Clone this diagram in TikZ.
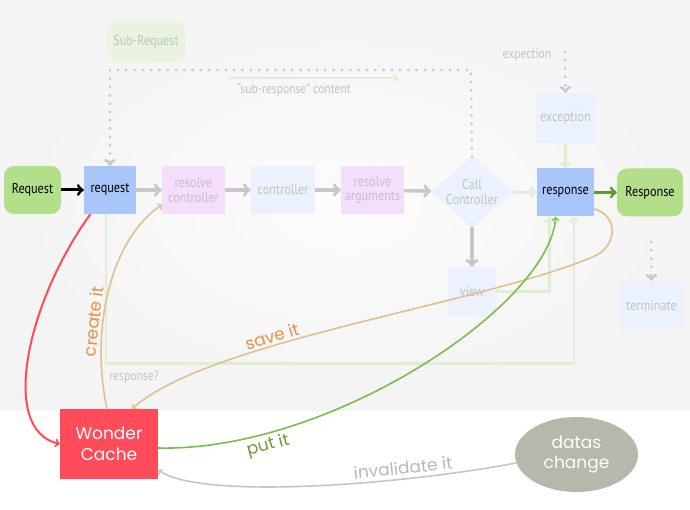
\documentclass[tikz,border=0pt]{standalone}
\usepackage{fontspec}
\usetikzlibrary{shapes.geometric}
\newfontfamily\narrowfont[FakeStretch=0.86]{PT Sans}
\newfontfamily\roundfont{Poppins}
\definecolor{fadetext}{HTML}{C2C2C2}
\definecolor{flowgray}{HTML}{C8C8C8}
\definecolor{paleblue}{HTML}{EBF2FE}
\definecolor{palepink}{HTML}{F5DDFC}
\definecolor{subgreen}{HTML}{E8F3E0}
\definecolor{liveblue}{HTML}{A8C6FA}
\definecolor{livegreen}{HTML}{B3DE8A}
\definecolor{palegreen}{HTML}{DDEED2}
\definecolor{darkgreen}{HTML}{5C9C2A}
\definecolor{cachered}{HTML}{FF4B5A}
\definecolor{tanline}{HTML}{DEC28C}
\definecolor{orangetext}{HTML}{E8904A}
\definecolor{putgreen}{HTML}{78BE4E}
\definecolor{putlabel}{HTML}{6A9F2F}
\definecolor{datasgray}{HTML}{B5B8AA}
\definecolor{invgray}{HTML}{C4C6C0}
\definecolor{invtext}{HTML}{B8B8B8}
\begin{document}
\begin{tikzpicture}[x=1pt,y=-1pt,
    stage/.style={inner sep=0pt,align=center,minimum height=48pt,
      font=\narrowfont\fontsize{14.2}{14.5}\selectfont,text=fadetext},
    blank/.style={stage,fill=paleblue},
    tinted/.style={stage,fill=palepink},
    live/.style={stage,fill=liveblue,text=black},
    ends/.style={stage,fill=livegreen,text=black,rounded corners=10pt},
    note/.style={inner sep=0pt,font=\narrowfont\fontsize{13.5}{14}\selectfont,text=fadetext},
    flow/.style={->,line width=3.5pt,draw=flowgray},
    loopline/.style={->,line width=2.7pt,draw=palegreen},
    dots/.style={->,line width=3pt,draw=flowgray,dash pattern=on 0pt off 8.3pt,line cap=round},
    cache/.style={->,line width=1.6pt},
    tag/.style={inner sep=1pt,font=\roundfont\fontsize{17}{17}\selectfont,sloped}]
  \useasboundingbox (0,0) rectangle (690,510);
  \shade[inner color=gray!2,outer color=gray!9] (0,0) rectangle (690,410);
  % boxes of the request flow
  \node[ends,minimum width=78pt,minimum height=41pt,fill=subgreen,text=fadetext] (A0_1) at (146,41.5) {Sub-Request};
  \node[blank,minimum width=59pt,minimum height=50pt] (A0_6) at (565.5,118) {exception};
  \node[ends,minimum width=57pt] (A1_0) at (32.5,190) {Request};
  \node[live,minimum width=52pt] (A1_1) at (110,190) {request};
  \node[tinted,minimum width=63pt] (A1_2) at (193.5,190) {resolve\\controller};
  \node[blank,minimum width=64pt] (A1_3) at (283,190) {controller};
  \node[tinted,minimum width=63pt] (A1_4) at (372.5,190) {resolve\\arguments};
  \node[blank,diamond,aspect=1.25,minimum width=82pt,minimum height=70pt] (A1_5) at (472,192) {Call\\Controller};
  \node[live,minimum width=57pt] (A1_6) at (565.5,192.5) {response};
  \node[ends,minimum width=66pt] (A1_7) at (650,192.5) {Response};
  \node[blank,minimum width=48pt,minimum height=49pt] (A2_5) at (472,291.5) {view};
  \node[blank,minimum width=63pt,minimum height=49pt] (A2_7) at (651.5,305.5) {terminate};
  \node[note] (A0_3) at (294,90) {“sub-response” content};
  \node[note] (A0_5) at (527,55) {expection};
  \node[note] (A2_1) at (134,377) {response?};
  % the cache
  \node[fill=cachered,text=white,minimum width=98pt,minimum height=70pt,align=center,
    font=\roundfont\fontsize{17}{20.5}\selectfont] (A3_0) at (109,444) {Wonder\\Cache};
  \node[ellipse,fill=datasgray,text=white,minimum width=123pt,minimum height=75pt,align=center,inner sep=0pt,
    font=\roundfont\fontsize{17}{20.5}\selectfont] (A3_1) at (576.5,454.5) {datas\\change};
  \coordinate (C0_1) at (110,70);
  \coordinate (C0_5) at (471,70);
  \coordinate (C0_6) at (565,52);
  \coordinate (C1_7) at (651,242);
  \coordinate (S0_2) at (229,78);
  \coordinate (S0_4) at (398,78);
  % connectors
  \draw[dots] (A1_5.north) -- (C0_5) -- (C0_1) -- (A1_1.north);
  \draw[dots] (C0_6) -- (A0_6.north);
  \draw[dots] (C1_7) -- (A2_7.north);
  \draw[loopline,line width=2pt] (S0_2) -- (S0_4);
  \draw[->,line width=3pt] (A1_0) -- (A1_1);
  \foreach \a/\b in {1/2,2/3,3/4,4/5}
    \draw[flow] (A1_\a) -- (A1_\b);
  \draw[flow] (A1_5) -- (A2_5);
  \draw[loopline] (A1_5) -- (A1_6);
  \draw[loopline] (A0_6) -- (A1_6);
  \draw[->,line width=3pt,draw=darkgreen] (A1_6) -- (A1_7);
  \draw[loopline] (A2_5.east) -| ([xshift=-16pt]A1_6.south);
  \draw[loopline] ([xshift=-4pt]A1_1.south) -- ++(0,149) -| ([xshift=8.5pt]A1_6.south);
  % cache curves
  \draw[cache,draw=cachered,line width=2pt] (A1_1.-129) .. controls (28,300) and (-2,430) .. (A3_0.west);
  \draw[cache,draw=tanline] ([xshift=-2pt]A3_0.north) .. controls (90,330) and (110,240) ..
    node[tag,pos=0.36,above=1pt,text=orangetext] {create it} (A1_2.-155);
  \draw[cache,draw=tanline,<-] (A3_0.57) .. controls (210,340) and (480,305) ..
    node[tag,pos=0.36,above=1pt,text=orangetext] {save it} (595,256)
    .. controls (618,245) and (618,215) .. (A1_6.-30);
  \draw[cache,draw=putgreen] ([yshift=-4pt]A3_0.east) .. controls (330,452) and (550,305) ..
    node[tag,pos=0.2,below=2pt,text=putlabel] {put it} (A1_6.-112);
  \draw[cache,draw=invgray,<-] ([yshift=-26pt]A3_0.east) .. controls (200,500) and (400,485) ..
    node[tag,pos=0.72,above=3pt,text=invtext] {invalidate it} (A3_1.-172);
\end{tikzpicture}
\end{document}
